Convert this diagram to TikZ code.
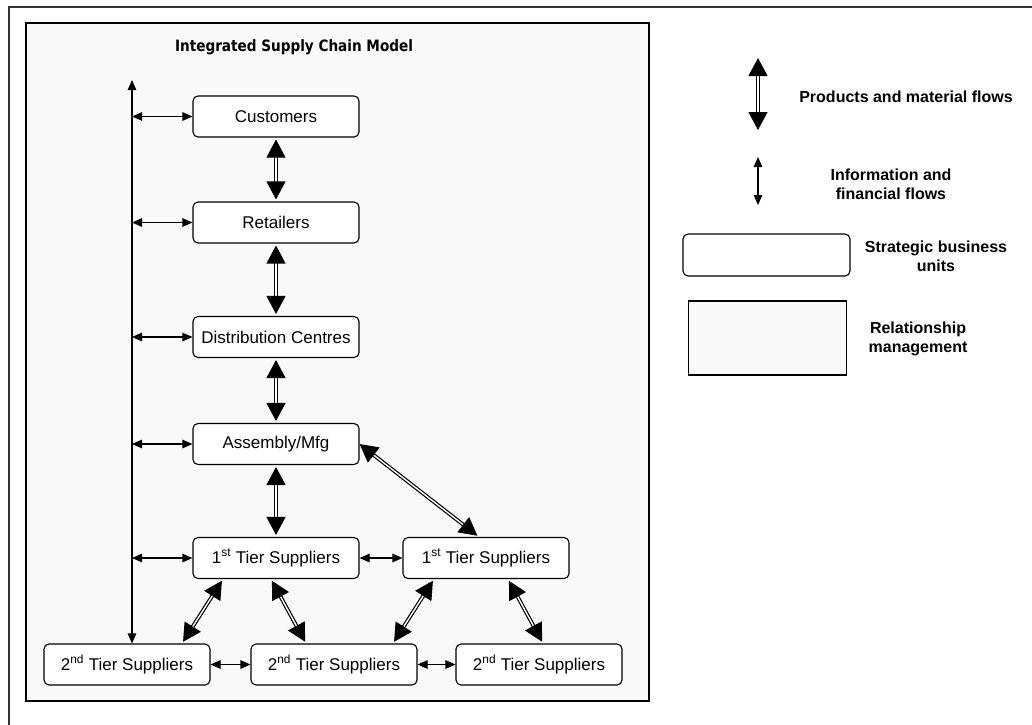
\documentclass[tikz,border=0pt]{standalone}
\usepackage{fontspec}
\setmainfont{Liberation Sans}
\newfontfamily\titlefont{DejaVu Sans}
\usetikzlibrary{arrows.meta}
\definecolor{rmfill}{HTML}{F9F9F9}
\definecolor{framegray}{HTML}{333333}
\begin{document}
\begin{tikzpicture}[x=1pt,y=-1pt,
  sbu/.style={draw=black, line width=1.1pt, rounded corners=5pt, fill=white,
    minimum width=166pt, minimum height=41pt, inner sep=0pt,
    font=\fontsize{17}{20}\selectfont},
  info/.style={line width=1.1pt, {Triangle[length=10pt,width=8.5pt]}-{Triangle[length=10pt,width=8.5pt]}},
  prod/.style={draw=black, line width=1.2pt, double=white, double distance=1.4pt,
    {Triangle[length=18pt,width=19pt]}-{Triangle[length=18pt,width=19pt]},
    shorten <=2pt, shorten >=2pt},
  legtext/.style={font=\bfseries\fontsize{16}{19}\selectfont, align=center, inner sep=0pt},
]
\useasboundingbox (0,0) rectangle (1032,724);
\begin{scope}
\clip (0,0) rectangle (1032,724);
% page frame
\draw[framegray, line width=2pt] (9,7) rectangle (1050,740);
\end{scope}

% relationship management area
\draw[black, line width=1.4pt, fill=rmfill] (26,23) rectangle (649,701);

\node[anchor=base, inner sep=0pt, font=\titlefont\bfseries\fontsize{13.6}{16}\selectfont]
  (title) at (294,51.5) {\scalebox{1}[1.15]{Integrated Supply Chain Model}};

% strategic business units
\node[sbu] (cust) at (276,116.5) {Customers};
\node[sbu] (ret)  at (276,222.5) {Retailers};
\node[sbu] (dc)   at (276,337)   {Distribution Centres};
\node[sbu] (asm)  at (276,444)   {Assembly/Mfg};
\node[sbu] (t1a)  at (276,558)   {1\textsuperscript{st} Tier Suppliers};
\node[sbu] (t1b)  at (486,558)   {1\textsuperscript{st} Tier Suppliers};
\node[sbu] (s2a)  at (127,664.5) {2\textsuperscript{nd} Tier Suppliers};
\node[sbu] (s2b)  at (334,664.5) {2\textsuperscript{nd} Tier Suppliers};
\node[sbu] (s2c)  at (539,664.5) {2\textsuperscript{nd} Tier Suppliers};

% information bus
\coordinate (bustop) at (132,80);
\draw[info] (bustop) -- (bustop |- s2a.north);
\foreach \n in {cust,ret,dc,asm,t1a}
  \draw[info] (bustop |- \n.west) -- (\n.west);
\draw[info] (t1a.east) -- (t1b.west);
\draw[info] (s2a.east) -- (s2b.west);
\draw[info] (s2b.east) -- (s2c.west);

% product and material flows
\draw[prod] (cust.south) -- (ret.north);
\draw[prod] (ret.south) -- (dc.north);
\draw[prod] (dc.south) -- (asm.north);
\draw[prod] (asm.south) -- (t1a.north);
\draw[prod, shorten <=0pt] (asm.east) -- ([xshift=-7pt]t1b.north);
\draw[prod] ([xshift=-53pt]t1a.south) -- ([xshift=55pt]s2a.north);
\draw[prod] ([xshift=-5pt]t1a.south) -- ([xshift=-28pt]s2b.north);
\draw[prod] ([xshift=-52pt]t1b.south) -- ([xshift=59pt]s2b.north);
\draw[prod] ([xshift=22pt]t1b.south) -- ([xshift=4pt]s2c.north);

% legend
\coordinate (lp1) at (758,58);
\coordinate (lp2) at (758,130);
\draw[prod, shorten <=0pt, shorten >=0pt] (lp1) -- (lp2);
\node[legtext] (lpt) at (906,97) {Products and material flows};

\coordinate (li1) at (758,157);
\coordinate (li2) at (758,205);
\draw[info] (li1) -- (li2);
\node[legtext] (lit) at (891,184) {Information and\\financial flows};

\node[sbu, minimum width=167pt, minimum height=42pt] (lsbu) at (766.5,255) {};
\node[legtext] (lsbut) at (936,256) {Strategic business\\units};

\node[draw=black, line width=1.1pt, fill=rmfill, minimum width=158pt, minimum height=74pt,
  inner sep=0pt] (lrm) at (767.5,338) {};
\node[legtext] (lrmt) at (918,339) {Relationship\\management};
\end{tikzpicture}
\end{document}
